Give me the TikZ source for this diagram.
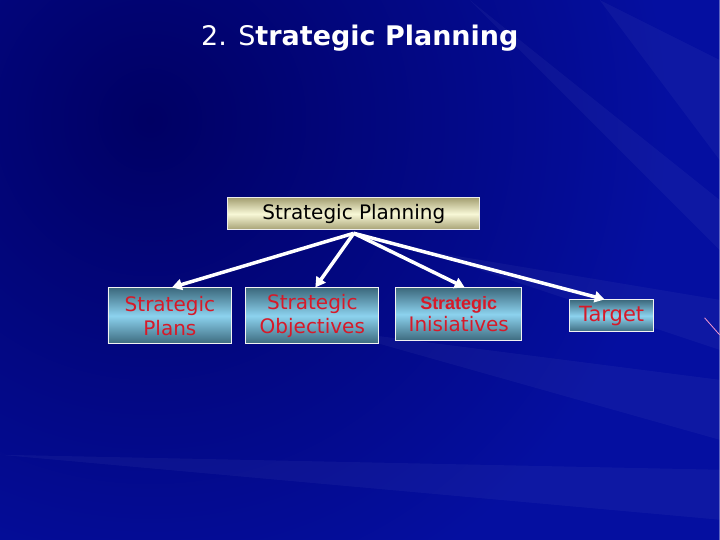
\documentclass[tikz,border=0pt]{standalone}
\usepackage{fontspec}
\setmainfont{DejaVu Sans}
\newfontfamily\arialfont{Liberation Sans}
\usepackage{tikz}
\usetikzlibrary{arrows.meta, positioning, calc}

\definecolor{bgdark}{RGB}{0,0,100}
\definecolor{bgblue}{RGB}{5,15,160}
\definecolor{khakiedge}{RGB}{165,160,115}
\definecolor{khakimid}{RGB}{248,248,215}
\definecolor{tealedge}{RGB}{60,105,125}
\definecolor{skymid}{RGB}{140,210,238}
\definecolor{labelred}{RGB}{215,25,40}

\begin{document}
\begin{tikzpicture}[
      x=1pt, y=-1pt,
      topbox/.style={draw=white!85!gray, line width=0.8pt,
        top color=khakiedge, bottom color=khakiedge, middle color=khakimid,
        minimum width=252pt, minimum height=32pt, inner sep=0pt,
        font=\fontsize{20}{22}\selectfont, text=black},
      subbox/.style={draw=white!90!gray, line width=0.8pt,
        top color=tealedge, bottom color=tealedge, middle color=skymid,
        minimum height=56pt, inner sep=0pt, align=center,
        font=\fontsize{20}{24}\selectfont, text=labelred},
      link/.style={-{Triangle[length=10pt,width=11pt]}, draw=white, line width=3.5pt},
      streak/.style={fill=white, opacity=0.04}
    ]
    % background
    \begin{scope}
      \clip (0,0) rectangle (720,540);
      \fill[bgblue] (0,0) rectangle (720,540);
      \shade[inner color=bgdark, outer color=bgblue] (150,120) circle (520);
      \fill[streak] (720,380) -- (330,330) -- (720,440) -- cycle;
      \fill[streak] (720,300) -- (420,250) -- (720,350) -- cycle;
      \fill[streak] (720,470) -- (0,455) -- (720,520) -- cycle;
      \fill[streak] (600,0) -- (720,160) -- (720,60) -- cycle;
      \fill[streak] (470,0) -- (720,250) -- (720,200) -- cycle;
    \end{scope}
    \draw[magenta!40!white, line width=0.8pt] (705,318) -- (720,335);
    \useasboundingbox (0,0) rectangle (720,540);

    % title
    \node [anchor=base, text=white, font=\fontsize{27}{30}\selectfont] (title) at (360,46)
      {2. S\textbf{trategic Planning}};

    % boxes
    \node [topbox] (plan) at (354,214) {Strategic Planning};
    \node [subbox, minimum width=124pt] (plans) at (170,316) {Strategic\\Plans};
    \node [subbox, minimum width=133pt] (objectives) at (312.5,316) {Strategic\\Objectives};
    \node [subbox, minimum width=126pt, minimum height=53pt] (initiatives) at (459,314.5)
      {{\arialfont\bfseries\fontsize{18}{20}\selectfont Strategic}\\[-2pt]Inisiatives};
    \node [subbox, minimum width=84pt, minimum height=32pt, font=\fontsize{21}{22}\selectfont] (target) at (612,316) {Target};

    % arrows
    \coordinate (hub) at ($(plan.south)+(0,3)$);
    \draw [link] (hub) -- ([xshift=2pt]plans.north);
    \draw [link] (hub) -- ([xshift=3pt]objectives.north);
    \draw [link] (hub) -- ([xshift=6pt]initiatives.north);
    \draw [link] (hub) -- ([xshift=-7pt]target.north);
\end{tikzpicture}
\end{document}
